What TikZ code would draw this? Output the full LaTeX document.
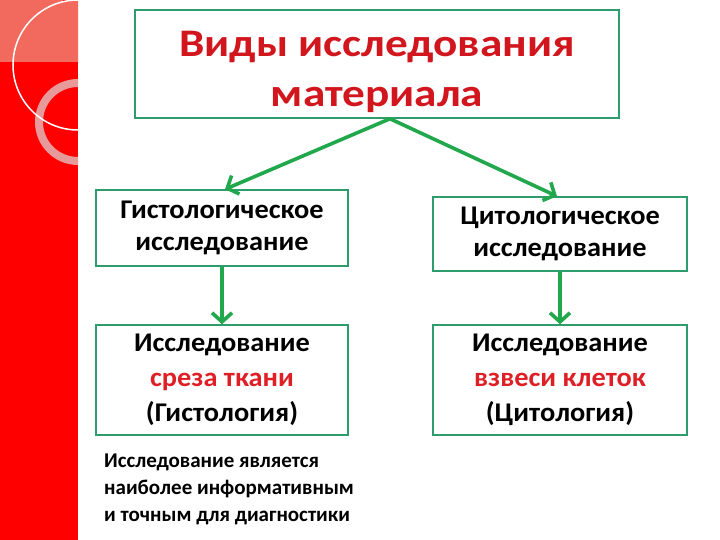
\documentclass[tikz,border=0pt]{standalone}
\usepackage{fontspec}
\setmainfont{Carlito}
\newfontfamily\widefont[FakeStretch=1.05]{Carlito}
\newfontfamily\titlefont[FakeStretch=1.16]{Carlito}
\usetikzlibrary{arrows.meta}
\definecolor{bandred}{HTML}{FF0000}
\definecolor{bandpale}{HTML}{F26A5E}
\definecolor{ringpink}{HTML}{E89A9A}
\definecolor{boxgreen}{HTML}{2E9C6C}
\definecolor{arrgreen}{HTML}{22A84C}
\definecolor{titlered}{HTML}{D2161E}
\definecolor{wordred}{HTML}{DE1F26}
\begin{document}
\begin{tikzpicture}[x=1pt,y=-1pt,
	box/.style={draw=boxgreen, line width=1.5pt, align=center, inner sep=0pt, font=\widefont\bfseries\fontsize{27}{32}\selectfont},
	link/.style={draw=arrgreen, line width=3.6pt, -{Straight Barb[length=9pt,width=20pt]}}]
	\useasboundingbox (0,0) rectangle (720,540);
	% red band on the left
	\fill[bandred] (0,0) rectangle (78,540);
	\begin{scope}
		\clip (0,0) rectangle (78,62);
		\fill[bandpale] (0,0) rectangle (63,62);
		\fill[bandpale] (78,65) circle (65);
	\end{scope}
	\begin{scope}
		\clip (0,0) rectangle (78,540);
		\draw[ringpink, line width=8pt] (78,122) circle (39);
		\draw[white, line width=1.5pt] (78,65) circle (65);
	\end{scope}
	% boxes
	\node[box, minimum width=484pt, minimum height=108pt, text=titlered, font=\titlefont\bfseries\fontsize{39}{50}\selectfont] (kinds) at (377,64) {\rule{0pt}{42pt}Виды исследования\\материала};
	\node[box, minimum width=252pt, minimum height=76pt] (histo) at (222,228) {Гистологическое\\исследование};
	\node[box, minimum width=254pt, minimum height=74pt] (cyto) at (560,234) {Цитологическое\\исследование};
	\node[box, minimum width=252pt, minimum height=110pt, font=\widefont\bfseries\fontsize{27}{35}\selectfont] (cut) at (222,380) {Исследование\\{\color{wordred}среза ткани}\\(Гистология)};
	\node[box, minimum width=254pt, minimum height=110pt, font=\widefont\bfseries\fontsize{27}{35}\selectfont] (susp) at (560,380) {Исследование\\{\color{wordred}взвеси клеток}\\(Цитология)};
	\node[anchor=north west, align=left, inner sep=0pt, font=\bfseries\fontsize{21}{27}\selectfont] (note) at (104,454) {Исследование является\\наиболее информативным\\и точным для диагностики};
	% arrows
	\coordinate (fork) at ([xshift=13pt]kinds.south);
	\draw[link] (fork) -- ([xshift=3pt]histo.north);
	\draw[link] (fork) -- ([xshift=-3pt]cyto.north);
	\draw[link] (histo) -- (cut);
	\draw[link] (cyto) -- (susp);
\end{tikzpicture}
\end{document}
